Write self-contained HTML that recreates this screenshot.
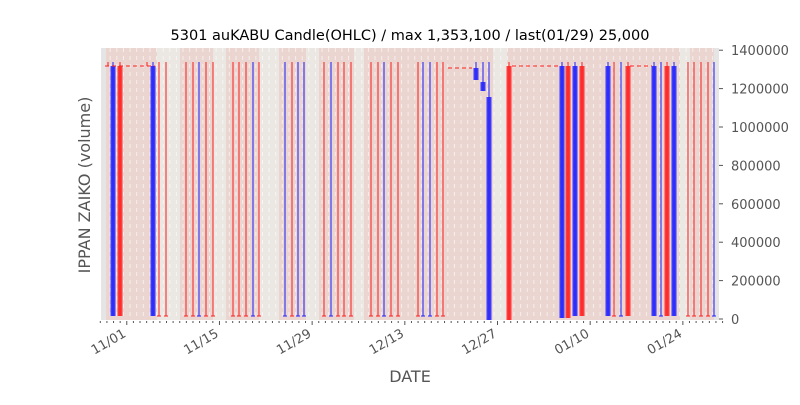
<!DOCTYPE html>
<html><head><meta charset="utf-8"><style>
body{margin:0;background:#fff;font-family:"Liberation Sans","DejaVu Sans",sans-serif}
</style></head><body>
<svg id="s" width="800" height="400" xmlns="http://www.w3.org/2000/svg" font-family="DejaVu Sans, Liberation Sans, sans-serif">
<rect width="800" height="400" fill="#fff"/>
<rect x="101" y="48" width="618" height="272" fill="#e5e5e5"/>
<rect x="106" y="48" width="608" height="272" fill="#ead5d1"/>
<g id="bg"></g>
<g id="c"></g>
<text x="410" y="40" font-size="14.5" text-anchor="middle" fill="#000">5301 auKABU Candle(OHLC) / max 1,353,100 / last(01/29) 25,000</text>
<text x="410" y="382" font-size="16" text-anchor="middle" fill="#555">DATE</text>
<text transform="translate(90,185) rotate(-90)" font-size="16" text-anchor="middle" fill="#555">IPPAN ZAIKO (volume)</text>
<g id="ax" font-size="13" fill="#555"></g>
</svg>
<script>
const S='http://www.w3.org/2000/svg';
function el(p,t,a,txt){const e=document.createElementNS(S,t);for(const k in a)e.setAttribute(k,a[k]);if(txt!==undefined)e.textContent=txt;document.getElementById(p).appendChild(e);return e;}
const X=d=>100.3+6.62*d;
const start=new Date(2021,9,28);
[[157,180],[213,226],[259,279],[306,319],[354,364],[493,507],[680,690]].forEach(b=>el('bg','rect',{x:b[0],y:48,width:b[1]-b[0],height:272,fill:'#ebe8e3'}));
for(let d=0;d<95;d++){
  const dt=new Date(start.getTime()+d*86400000);
  const dx=X(d)+3.3; if(dx>106&&dx<714) el('bg','line',{x1:dx,y1:48,x2:dx,y2:320,stroke:'#fff','stroke-width':1,'stroke-dasharray':'4,4',opacity:0.6});
  el('ax','line',{x1:X(d),y1:321,x2:X(d),y2:(d-4)%14==0?325:323,stroke:'#555','stroke-width':1});
  if((d-4)%14==0&&d>=4){
    const lbl=String(dt.getMonth()+1).padStart(2,'0')+'/'+String(dt.getDate()).padStart(2,'0');
    el('ax','text',{transform:`translate(${X(d)},336) rotate(-30)`,'text-anchor':'end'},lbl);
  }
}
for(let i=0;i<=7;i++){const y=319-i*38.4;
  el('ax','line',{x1:719,y1:y,x2:723,y2:y,stroke:'#555'});
  el('ax','text',{x:731,y:y+5},String(i*200000));}
const R='#ff2020',B='#2020ff';
const thin=[[108,R,62,66],[147,R,62,66],[159,R],[166,R],[186,R],[193,R],[199,B],[206,R],[213,R],[233,R],[239,R],[246,R],[253,B],[259,R],[285,B],[292,R],[298,B],[304,B],[324,R],[331,B],[338,R],[344,R],[351,R],[371,R],[378,R],[384,B],[391,R],[398,R],[418,R],[423,B],[430,B],[437,R],[443,R],[614,R],[621,B],[661,B],[688,R],[694,R],[701,R],[708,R],[714,B]];
thin.forEach(t=>{el('c','line',{x1:t[0],y1:t[2]||62,x2:t[0],y2:t[3]||316,stroke:t[1],'stroke-width':1.2,opacity:0.85});
 if(!t[2]) el('c','line',{x1:t[0]-2,y1:316,x2:t[0]+2,y2:316,stroke:t[1]});});
const thick=[[113,B,66,316],[120,R,66,316],[153,B,66,316],[476,B,68,80],[483,B,82,91],[489,B,97,320],[509,R,66,320],[562,B,66,318],[568,R,66,318],[575,B,66,316],[582,R,66,316],[608,B,66,316],[628,R,66,316],[654,B,66,316],[667,R,66,316],[674,B,66,316]];
thick.forEach(t=>{el('c','line',{x1:t[0],y1:62,x2:t[0],y2:t[3],stroke:t[1],'stroke-width':1});
 el('c','rect',{x:t[0]-2.5,y:t[2],width:5,height:t[3]-t[2],fill:t[1],opacity:0.85});});
[[105,155,66],[448,472,68],[512,560,66],[630,652,66]].forEach(d=>el('c','line',{x1:d[0],y1:d[2],x2:d[1],y2:d[2],stroke:R,'stroke-dasharray':'4,3','stroke-width':1}));
</script>
</body></html>
